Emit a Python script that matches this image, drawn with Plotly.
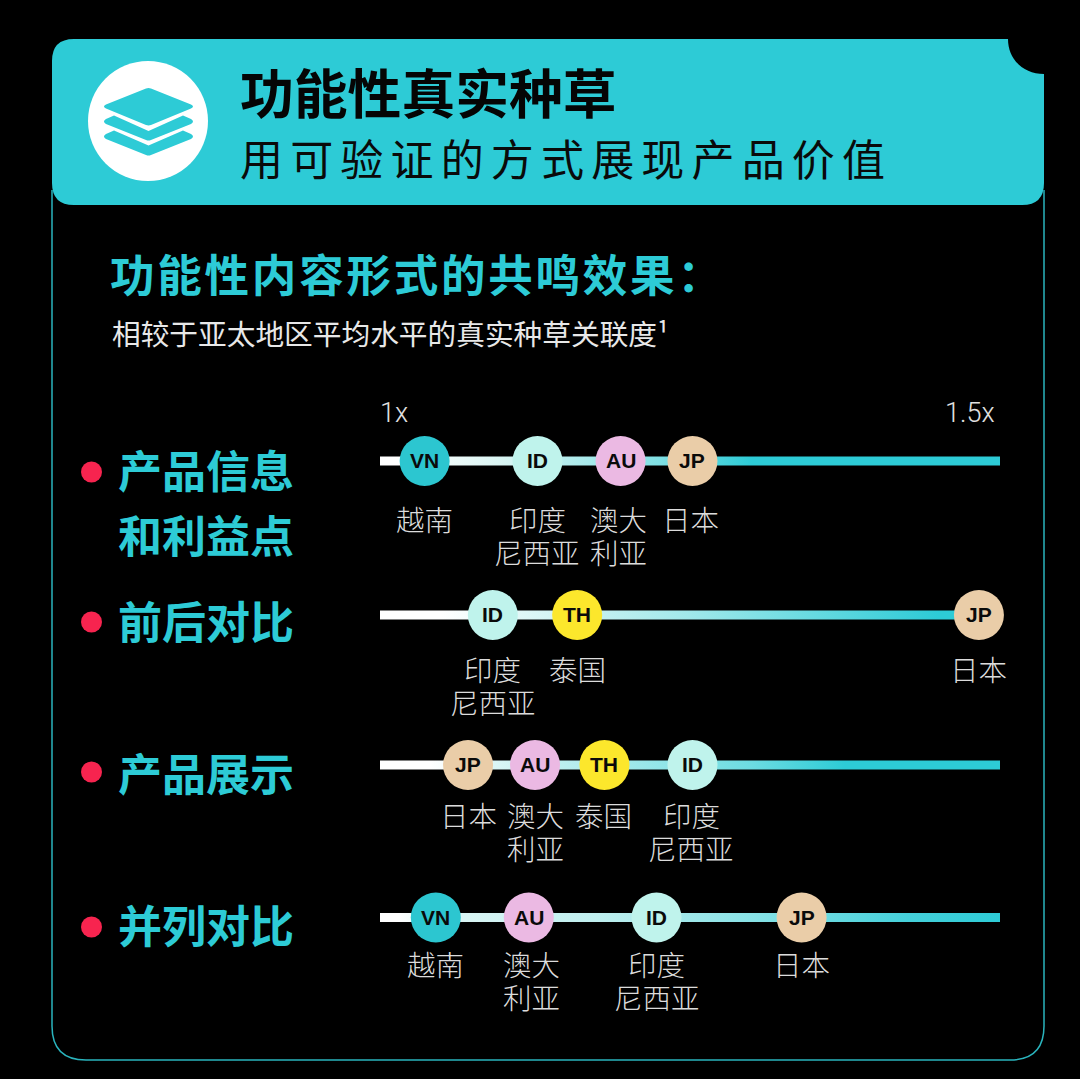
import plotly.graph_objects as go

# ---- data ----
title = "功能性真实种草"
subtitle = "用\u2006可\u2006验\u2006证\u2006的\u2006方\u2006式\u2006展\u2006现\u2006产\u2006品\u2006价\u2006值"
chart_title = "功\u200a能\u200a性\u200a内\u200a容\u200a形\u200a式\u200a的\u200a共\u200a鸣\u200a效\u200a果\u200a："
chart_note = "相较于亚太地区平均水平的真实种草关联度¹"
axis_ends = [1.0, 1.5]
axis_labels = ["1x", "1.5x"]

row_names = [["产品信息", "和利益点"], ["前后对比"], ["产品展示"], ["并列对比"]]

row1_codes = ["VN", "ID", "AU", "JP"]
row1_values = [1.036, 1.127, 1.194, 1.252]
row1_names = [["越南"], ["印度", "尼西亚"], ["澳大", "利亚"], ["日本"]]

row2_codes = ["ID", "TH", "JP"]
row2_values = [1.091, 1.159, 1.483]
row2_names = [["印度", "尼西亚"], ["泰国"], ["日本"]]

row3_codes = ["JP", "AU", "TH", "ID"]
row3_values = [1.071, 1.125, 1.181, 1.252]
row3_names = [["日本"], ["澳大", "利亚"], ["泰国"], ["印度", "尼西亚"]]

row4_codes = ["VN", "AU", "ID", "JP"]
row4_values = [1.045, 1.120, 1.223, 1.340]
row4_names = [["越南"], ["澳大", "利亚"], ["印度", "尼西亚"], ["日本"]]

# ---- layout & style ----
W, H = 1080, 1079
CJK = "Noto Sans CJK SC"
TEAL = "#2DCBD6"
code_colors = {"VN": "#2CC6D0", "ID": "#BFF3EC", "AU": "#EBB9E3", "JP": "#EACDA8", "TH": "#FCE72C"}
row_y = [461, 615, 765, 917.5]
label_y = [518, 668, 814, 963]
row_name_y = [469, 620, 772, 924]
dot_y = [472, 622, 772, 927]
LINE_PITCH = 33
label_shift = [[0, 0, -2, -2], [0, 0, 0], [0, 0, -1, -1], [0, 3, 0, 0]]
row_gradients = [
    [[0, "#FFFFFF"], [0.05, "#FFFFFF"], [0.2, "#D8F5F3"], [0.45, "#80E0E4"], [0.6, TEAL], [1, TEAL]],
    [[0, "#FFFFFF"], [0.1, "#FFFFFF"], [0.3, "#CFF3F3"], [0.5, "#A0E8EA"], [0.9, TEAL], [1, TEAL]],
    [[0, "#FFFFFF"], [0.08, "#FFFFFF"], [0.25, "#C5F1F0"], [0.4, "#A0E8EA"], [0.6, "#6CDCE2"], [0.75, TEAL], [1, TEAL]],
    [[0, "#FFFFFF"], [0.03, "#FFFFFF"], [0.1, "#DDF6F5"], [0.35, "#BFEFEF"], [0.6, "#88E2E6"], [0.85, "#45D0DA"], [1, TEAL]],
]

rows = [
    (row1_codes, row1_values, row1_names),
    (row2_codes, row2_values, row2_names),
    (row3_codes, row3_values, row3_names),
    (row4_codes, row4_values, row4_names),
]


def px(x):
    return x / W


def py(y):
    return 1 - y / H


def P(x, y):
    return f"{px(x):.5f},{py(y):.5f}"


fig = go.Figure()

# bars with a white-to-teal gradient
for y, grad in zip(row_y, row_gradients):
    fig.add_trace(go.Scatter(
        x=[axis_ends[0], axis_ends[1], axis_ends[1], axis_ends[0], axis_ends[0]],
        y=[y - 4.5, y - 4.5, y + 4.5, y + 4.5, y - 4.5],
        mode="lines", line=dict(width=0), fill="toself",
        fillgradient=dict(type="horizontal", colorscale=grad),
        hoverinfo="skip", showlegend=False))

# markers
for y, (codes, values, names) in zip(row_y, rows):
    fig.add_trace(go.Scatter(
        x=values, y=[y] * len(values), mode="markers", cliponaxis=False,
        marker=dict(size=50, color=[code_colors[c] for c in codes], line=dict(width=0)),
        hoverinfo="skip", showlegend=False))

annotations = []


def note(text, x, y, size, color, xanchor="left", weight="normal", xref="paper", family=CJK, xshift=0):
    annotations.append(dict(
        text=text, x=x, y=y, xref=xref, yref="y", xanchor=xanchor, yanchor="middle",
        showarrow=False, align="left" if xanchor == "left" else "center", xshift=xshift,
        font=dict(family=family, size=size, color=color, weight=weight),
        borderpad=0, borderwidth=0))


note(title, px(240), 90, 53.8, "#050505", weight="bold")
note(subtitle, px(240), 157, 43, "#0A0A0A")
note(chart_title, px(110), 272, 44.5, TEAL, weight="bold")
note(chart_note, px(112), 332, 28.7, "#E8E8E8")
note(axis_labels[0], axis_ends[0], 413, 27, "#E0E0E0", xref="x", family="Roboto", weight=300)
note(axis_labels[1], axis_ends[1], 413, 27, "#E0E0E0", xanchor="right", xref="x", family="Roboto", weight=300, xshift=-5)

for y, lines in zip(row_name_y, row_names):
    for i, line in enumerate(lines):
        note(line, px(118), y + i * 65, 44, TEAL, weight="bold")

for y, ly, shifts, (codes, values, names) in zip(row_y, label_y, label_shift, rows):
    for c, v, s, lines in zip(codes, values, shifts, names):
        note(c, v, y - 0.5, 21, "#0A0A0A", xanchor="center", xref="x", family="Liberation Sans", weight="bold")
        for i, line in enumerate(lines):
            note(line, v, ly + i * LINE_PITCH, 28.5, "#DCDCDC", xanchor="center", xref="x", weight=300, xshift=s)

# decoration
shapes = []
shapes.append(dict(type="path", xref="paper", yref="paper", layer="below",
                   line=dict(color="#2AB4BD", width=1.5), fillcolor="rgba(0,0,0,0)",
                   path=f"M{P(52,190)} L{P(52,1026)} Q{P(52,1060)} {P(86,1060)} L{P(1010,1060)} Q{P(1044,1060)} {P(1044,1026)} L{P(1044,190)}"))
shapes.append(dict(type="path", xref="paper", yref="paper", layer="below",
                   line=dict(width=0), fillcolor=TEAL,
                   path=f"M{P(74,39)} L{P(1008,39)} C{P(1008,60)} {P(1024,74)} {P(1044,74)} L{P(1044,183)} Q{P(1044,205)} {P(1022,205)} L{P(74,205)} Q{P(52,205)} {P(52,183)} L{P(52,61)} Q{P(52,39)} {P(74,39)} Z"))
shapes.append(dict(type="circle", xref="paper", yref="paper", layer="below",
                   x0=px(88), x1=px(208), y0=py(181), y1=py(61), line=dict(width=0), fillcolor="#FFFFFF"))
icon_paths = [
    f"M{P(106,104.5)} L{P(146,88.5)} Q{P(148.5,87.5)} {P(151,88.5)} L{P(191,104.5)} Q{P(195,106.5)} {P(191,108.5)} L{P(151,125)} Q{P(148.5,126)} {P(146,125)} L{P(106,108.5)} Q{P(102,106.5)} {P(106,104.5)} Z",
    f"M{P(106,119)} L{P(114,115.5)} L{P(148.5,131)} L{P(183,115.5)} L{P(191,119)} Q{P(195,121.5)} {P(191,124)} L{P(151,140)} Q{P(148.5,141)} {P(146,140)} L{P(106,124)} Q{P(102,121.5)} {P(106,119)} Z",
    f"M{P(106,134)} L{P(114,130.5)} L{P(148.5,145.5)} L{P(183,130.5)} L{P(191,134)} Q{P(195,136.5)} {P(191,139)} L{P(151,155)} Q{P(148.5,156)} {P(146,155)} L{P(106,139)} Q{P(102,136.5)} {P(106,134)} Z",
]
for path in icon_paths:
    shapes.append(dict(type="path", xref="paper", yref="paper", layer="below",
                       line=dict(width=0), fillcolor=TEAL, path=path))
for y in dot_y:
    shapes.append(dict(type="circle", xref="paper", yref="paper", layer="below",
                       x0=px(81), x1=px(102), y0=py(y + 10.5), y1=py(y - 10.5),
                       line=dict(width=0), fillcolor="#F7244F"))

fig.update_layout(
    width=W, height=H, autosize=False,
    margin=dict(l=0, r=0, t=0, b=0, pad=0),
    paper_bgcolor="#000000", plot_bgcolor="rgba(0,0,0,0)",
    xaxis=dict(domain=[px(380), px(1000)], range=axis_ends, visible=False, fixedrange=True),
    yaxis=dict(domain=[0, 1], range=[H, 0], visible=False, fixedrange=True),
    annotations=annotations, shapes=shapes, showlegend=False,
)

fig.write_html("out.html", config={"displayModeBar": False},
               post_script="document.body.style.margin='0';document.body.style.background='#000';")
